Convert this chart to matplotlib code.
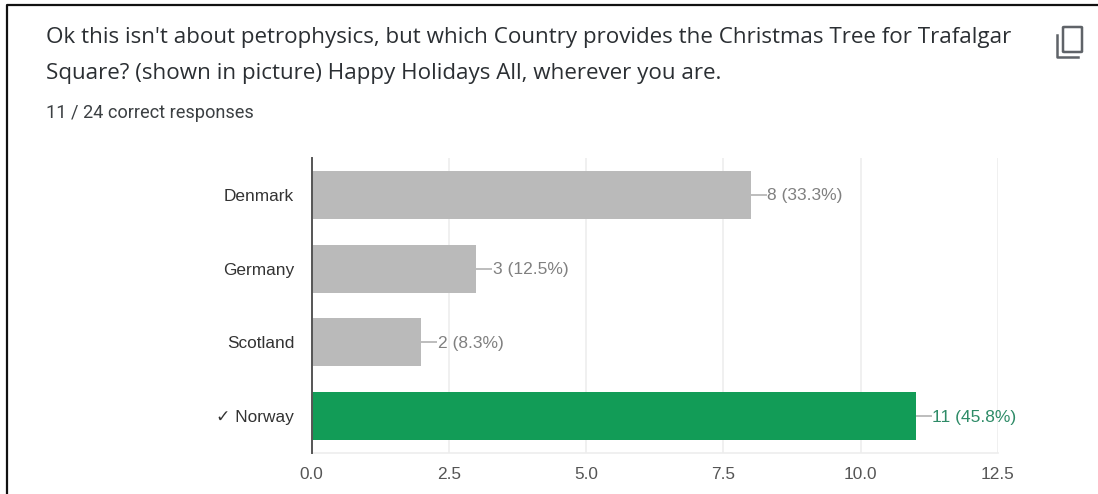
#!/usr/bin/python3
import matplotlib
matplotlib.use("Agg")
import matplotlib.pyplot as plt
from matplotlib.lines import Line2D
from matplotlib.patches import FancyBboxPatch

W, H = 1098, 494

countries = ["Denmark", "Germany", "Scotland", "✓ Norway"]
counts = [8, 3, 2, 11]
percents = [33.3, 12.5, 8.3, 45.8]
xticks = [0.0, 2.5, 5.0, 7.5, 10.0, 12.5]
title_lines = [
    "Ok this isn't about petrophysics, but which Country provides the Christmas Tree for Trafalgar",
    "Square? (shown in picture) Happy Holidays All, wherever you are.",
]
subtitle = "11 / 24 correct responses"

GREY = "#bababa"
GREEN = "#129c57"
chart_font = ["Liberation Sans", "DejaVu Sans"]


def px(x, y):
    # pixel position (from top left) to figure fraction
    return x / W, 1 - y / H


fig = plt.figure(figsize=(W / 100, H / 100), dpi=100)

# outer frame of the screenshot
fig.add_artist(Line2D([7 / W, 7 / W, 1], [0, 1 - 5 / H, 1 - 5 / H], color="#111111", lw=1.6))

# question text
fx, fy = px(46, 38)
fig.text(fx, fy, title_lines[0], fontsize=16.15, family="Open Sans", color="#2b2f33", va="center")
fx, fy = px(46, 73)
fig.text(fx, fy, title_lines[1], fontsize=16.15, family="Open Sans", color="#2b2f33", va="center")
fx, fy = px(46, 113)
fig.text(fx, fy, subtitle, fontsize=13.1, family="Roboto", color="#3c4043", va="center")

# copy icon
x0, y0 = px(1063, 52)
fig.add_artist(FancyBboxPatch((x0, y0), 19 / W, 25 / H, boxstyle="round,pad=0,rounding_size=0.001",
                              fc="none", ec="#5f6368", lw=1.8, transform=fig.transFigure))
fig.add_artist(Line2D([1057 / W, 1057 / W, 1078 / W], [1 - 35 / H, 1 - 57.5 / H, 1 - 57.5 / H],
                      color="#5f6368", lw=1.8))

# chart area
left, right = 311.5, 998
top, bottom = 158, 453
ax = fig.add_axes([left / W, 1 - bottom / H, (right - left) / W, (bottom - top) / H])

colors = [GREY, GREY, GREY, GREEN]
ypos = list(range(len(countries)))
ax.barh(ypos, counts, height=0.65, color=colors, zorder=2)
ax.set_xlim(0, 12.5)
ax.set_ylim(len(countries) - 0.5, -0.5)

ax.set_yticks(ypos)
ax.set_yticklabels(countries, family=chart_font, fontsize=12.4, color="#333333")
ax.set_xticks(xticks)
ax.set_xticklabels([f"{t:.1f}" for t in xticks], family=chart_font, fontsize=12.4, color="#555555")
ax.tick_params(length=0, pad=12.5, axis="y")
ax.tick_params(length=0, pad=10, axis="x")
ax.grid(axis="x", color="#ededed", lw=1.2, zorder=0)

for side in ["top", "right"]:
    ax.spines[side].set_visible(False)
ax.spines["bottom"].set_color("#ededed")
ax.spines["bottom"].set_linewidth(1.2)
ax.spines["left"].set_color("#555555")
ax.spines["left"].set_linewidth(1.4)
ax.spines["left"].set_zorder(5)

# value labels with a small leader line
for y, n, pct, c in zip(ypos, counts, percents, colors):
    ax.plot([n, n + 0.29], [y, y], color="#bdbdbd", lw=1.4, zorder=3, solid_capstyle="butt")
    label_color = "#2e8b67" if c == GREEN else "#808080"
    ax.text(n + 0.3, y + 0.012, f"{n} ({pct}%)", family=chart_font, fontsize=12.5, color=label_color,
            va="center", ha="left", zorder=4)

fig.savefig("out.png", dpi=100)
